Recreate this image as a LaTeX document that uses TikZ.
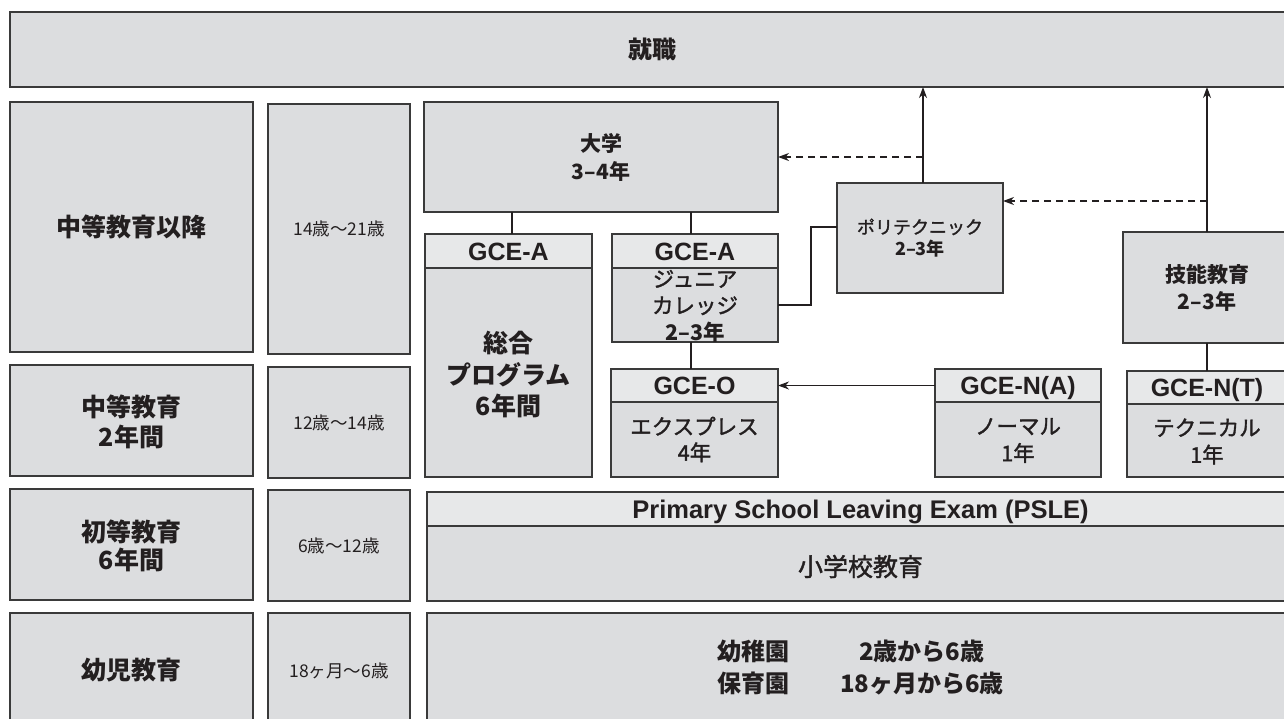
\documentclass[tikz,border=0pt]{standalone}
\usepackage{fontspec}
\usetikzlibrary{arrows.meta}
\newfontfamily\jp{Noto Sans CJK JP}
\newfontfamily\jpm[FakeBold=1.6]{Noto Sans CJK JP}
\newfontfamily\lat{Liberation Sans}
\definecolor{boxfill}{HTML}{DCDDDF}
\definecolor{headfill}{HTML}{E7E8E9}
\definecolor{edge}{HTML}{3A3A3A}
\definecolor{ink}{HTML}{231F20}
\newcommand{\bx}[6]{\node[#6, minimum width={(#4-#2)*1pt}, minimum height={(#5-#3)*1pt}] (#1) at ({(#2+#4)/2},{(#3+#5)/2}) {};}
\tikzset{
  box/.style={draw=edge, fill=boxfill, line width=1.3pt, inner sep=0pt, outer sep=0pt},
  head/.style={box, fill=headfill},
  txt/.style={text=ink, align=center, inner sep=0pt},
  bigb/.style={txt, font=\jp\bfseries\fontsize{25}{30}\selectfont},
  midb/.style={txt, font=\jp\bfseries\fontsize{21}{28}\selectfont},
  midm/.style={txt, font=\jpm\fontsize{21.5}{26.5}\selectfont},
  agetxt/.style={txt, font=\jp\fontsize{17.5}{20}\selectfont},
  gce/.style={txt, font=\lat\bfseries\fontsize{25}{30}\selectfont, text height=18pt, text depth=0pt},
  conn/.style={draw=ink, line width=1.8pt},
  elbow/.style={draw=ink, line width=1.2pt},
  arr/.style={draw=ink, line width=1.2pt, -{Stealth[length=11pt,width=8pt,inset=3.5pt]}},
  darr/.style={arr, dash pattern=on 7pt off 5pt}
}
\begin{document}
\begin{tikzpicture}[x=1pt,y=-1pt]
\useasboundingbox (0,0) rectangle (1284,718);
\clip (0,0) rectangle (1284,718);
\fill[white] (0,0) rectangle (1284,718);
% boxes
\bx{sh}{10}{12}{1294}{87}{box}
\bx{post}{10}{102}{253}{352}{box}
\bx{agea}{268}{104}{410}{354}{box}
\bx{univ}{424}{102}{778}{212}{box}
\bx{gaLh}{425}{234}{592}{268}{head}
\bx{gaLb}{425}{268}{592}{477}{box}
\bx{gaRh}{612}{234}{778}{268}{head}
\bx{gaRb}{612}{268}{778}{342}{box}
\bx{poly}{837}{183}{1003}{293}{box}
\bx{skill}{1123}{232}{1291}{343}{box}
\bx{sec}{10}{365}{253}{476}{box}
\bx{ageb}{268}{367}{410}{478}{box}
\bx{goh}{611}{369}{778}{402}{head}
\bx{gob}{611}{402}{778}{477}{box}
\bx{gnah}{935}{369}{1101}{402}{head}
\bx{gnab}{935}{402}{1101}{477}{box}
\bx{gnth}{1127}{371}{1287}{404}{head}
\bx{gntb}{1127}{404}{1287}{477}{box}
\bx{pri}{10}{489}{253}{600}{box}
\bx{agec}{268}{490}{410}{601}{box}
\bx{psh}{427}{492}{1294}{526}{head}
\bx{psb}{427}{526}{1294}{601}{box}
\bx{kid}{10}{613}{253}{728}{box}
\bx{aged}{268}{613}{410}{728}{box}
\bx{kg}{427}{613}{1294}{728}{box}
% texts
\node[txt, font=\jp\bfseries\fontsize{24}{28}\selectfont] (t-sh) at (sh) {就職};
\node[bigb] (t-post) at (post) {中等教育以降};
\node[agetxt] (t-agea) at (agea) {14歳～21歳};
\node[midb] (t-univ) at (univ) {大学\\3–4年};
\node[gce] (t-gaLh) at (gaLh) {GCE-A};
\node[txt, font=\jp\bfseries\fontsize{25}{31.5}\selectfont] (t-gaLb) at ([yshift=-2pt]gaLb.center) {総合\\プログラム\\6年間};
\node[gce] (t-gaRh) at (gaRh) {GCE-A};
\node[midm] (t-gaRb) at ([yshift=-1pt]gaRb.center) {ジュニア\\カレッジ\\{\jp\bfseries 2–3年}};
\node[txt, font=\jpm\fontsize{18}{22}\selectfont] (t-poly) at (poly) {ポリテクニック\\{\jp\bfseries 2–3年}};
\node[txt, font=\jp\bfseries\fontsize{21}{27}\selectfont] (t-skill) at (skill) {技能教育\\2–3年};
\node[txt, font=\jp\bfseries\fontsize{25}{30}\selectfont] (t-sec) at ([yshift=-1.5pt]sec.center) {中等教育\\2年間};
\node[agetxt] (t-ageb) at (ageb) {12歳～14歳};
\node[gce] (t-goh) at (goh) {GCE-O};
\node[midm, font=\jpm\fontsize{21.5}{26}\selectfont] (t-gob) at (gob) {エクスプレス\\4年};
\node[gce] (t-gnah) at (gnah) {GCE-N(A)};
\node[midm, font=\jpm\fontsize{21.5}{27}\selectfont] (t-gnab) at ([yshift=-1pt]gnab.center) {ノーマル\\1年};
\node[gce] (t-gnth) at (gnth) {GCE-N(T)};
\node[midm, font=\jpm\fontsize{21.5}{27}\selectfont] (t-gntb) at ([yshift=-1pt]gntb.center) {テクニカル\\1年};
\node[txt, font=\jp\bfseries\fontsize{25}{28}\selectfont] (t-pri) at ([yshift=-1.5pt]pri.center) {初等教育\\6年間};
\node[agetxt] (t-agec) at (agec) {6歳～12歳};
\node[gce, font=\lat\bfseries\fontsize{25.5}{30}\selectfont] (t-psh) at (psh) {Primary School Leaving Exam (PSLE)};
\node[txt, font=\jpm\fontsize{25}{30}\selectfont] (t-psb) at ([yshift=-3pt]psb.center) {小学校教育};
\node[bigb] (t-kid) at (kid) {幼児教育};
\node[agetxt] (t-aged) at (aged) {18ヶ月～6歳};
\node[txt, font=\jp\bfseries\fontsize{24}{32}\selectfont] (t-kg) at (kg) {\begin{tabular}{@{}c@{\hspace{51pt}}c@{}}幼稚園 & 2歳から6歳\\保育園 & 18ヶ月から6歳\end{tabular}};
% connectors
\draw[conn] ([xshift=3.5pt]gaLh.north) -- ([xshift=3.5pt]gaLh.north |- univ.south);
\draw[conn] ([xshift=-4pt]gaRh.north) -- ([xshift=-4pt]gaRh.north |- univ.south);
\draw[conn] ([xshift=-3.5pt]goh.north) -- ([xshift=-3.5pt]goh.north |- gaRb.south);
\draw[conn] (gnth.north) -- (gnth.north |- skill.south);
\draw[elbow] (gaRb.east) -- ++(33,0) |- ([yshift=11pt]poly.west);
\draw[arr] (gnah.west) -- (goh.east);
\draw[arr] ([xshift=3pt]poly.north) -- ([xshift=3pt]poly.north |- sh.south);
\draw[arr] (skill.north) -- (skill.north |- sh.south);
\draw[darr] ([xshift=3pt]poly.north |- univ.east) -- (univ.east);
\draw[darr] ([yshift=37pt]poly.east -| skill.north) -- ([yshift=37pt]poly.east);
\end{tikzpicture}
\end{document}
